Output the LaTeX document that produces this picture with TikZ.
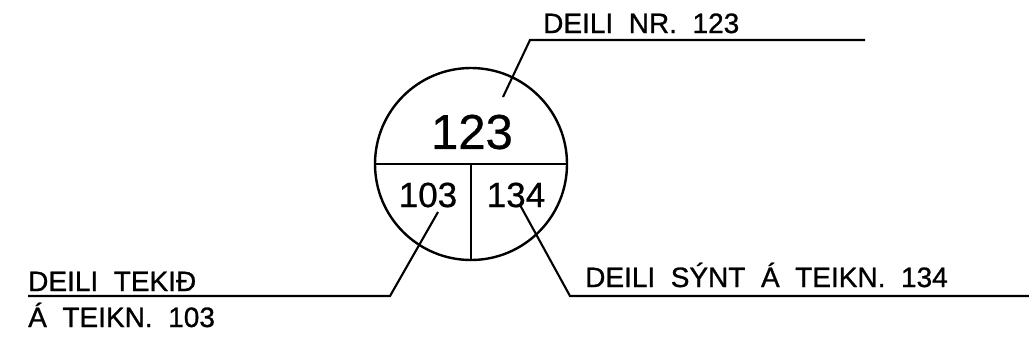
\documentclass[tikz,border=0pt]{standalone}
\usepackage{fontspec}
\setmainfont{Liberation Sans}[FakeBold=0.6]
\newfontfamily\cadfont{Liberation Sans}[WordSpace=2,FakeBold=0.9]
\begin{document}
\begin{tikzpicture}[x=1pt,y=-1pt,
  leader/.style={line width=2.1pt},
  rim/.style={line width=2.4pt},
  lbl/.style={inner sep=0pt,anchor=base west,font=\cadfont\fontsize{28}{30}\selectfont}]
\useasboundingbox (0,0) rectangle (1029,346);
%\draw[help lines, color=gray!30, dashed] (0,0) grid[step=50] (1029,346);
% the lot circle and its split
\node[circle,draw,rim,minimum size=192pt,inner sep=0pt] (disk) at (471,164) {};
\draw[rim] (disk.west) -- (disk.east);
\draw[rim] (disk.center) -- (disk.south);
\node[inner sep=0pt,font=\fontsize{49}{52}\selectfont] (main) at (472,132) {123};
\node[inner sep=0pt,font=\fontsize{35}{38}\selectfont] (taken) at (428,195) {103};
\node[inner sep=0pt,font=\fontsize{35}{38}\selectfont] (shown) at (516,195) {134};
% leaders
\coordinate (nrtip) at (503,97);
\coordinate (nrbend) at (530,40);
\coordinate (nrend) at (865,40);
\coordinate (tktip) at (438,212);
\coordinate (tkbend) at (390,296);
\coordinate (tkend) at (28,296);
\coordinate (sntip) at (520,205);
\coordinate (snbend) at (570,296);
\coordinate (snend) at (1029,296);
\draw[leader] (nrtip) -- (nrbend) -- (nrend);
\draw[leader] (tktip) -- (tkbend) -- (tkend);
\draw[leader] (sntip) -- (snbend) -- (snend);
% labels
\node[lbl] (nrlabel) at (543,33) {DEILI NR. 123};
\node[lbl] (tklabel) at (28,291) {DEILI TEKIÐ};
\node[lbl] (tkline) at (28,327) {Á TEIKN. 103};
\node[lbl] (snlabel) at (585,287) {DEILI SÝNT Á TEIKN. 134};
\end{tikzpicture}
\end{document}
